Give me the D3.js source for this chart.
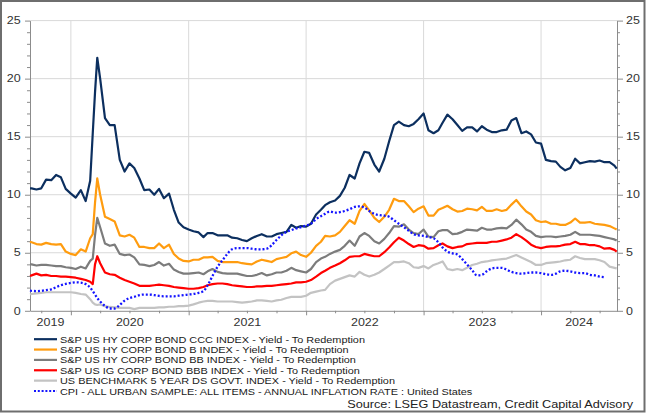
<!DOCTYPE html>
<html>
<head>
<meta charset="utf-8">
<script src="https://cdn.jsdelivr.net/npm/d3@7"></script>
<style>
  html, body { margin: 0; padding: 0; background: #fff; }
  svg { display: block; font-family: "Liberation Sans", Arial, sans-serif; }
</style>
</head>
<body>
<svg id="chart" width="646" height="413"></svg>
<script>
// ---------- DATA ----------
const dates = [
  "2019-08-27","2019-09-01","2019-09-16","2019-10-01","2019-10-16","2019-11-01","2019-11-16","2019-12-01","2019-12-16",
  "2020-01-01","2020-01-16","2020-02-01","2020-02-16","2020-03-01","2020-03-09","2020-03-16","2020-03-23","2020-04-01","2020-04-16",
  "2020-05-01","2020-05-16","2020-06-01","2020-06-16","2020-07-01","2020-07-16","2020-08-01","2020-08-16","2020-09-01","2020-09-16",
  "2020-10-01","2020-10-16","2020-11-01","2020-11-16","2020-12-01","2020-12-16",
  "2021-01-01","2021-01-16","2021-02-01","2021-02-16","2021-03-01","2021-03-16","2021-04-01","2021-04-16","2021-05-01","2021-05-16",
  "2021-06-01","2021-06-16","2021-07-01","2021-07-16","2021-08-01","2021-08-16","2021-09-01","2021-09-16","2021-10-01","2021-10-16",
  "2021-11-01","2021-11-16","2021-12-01","2021-12-16",
  "2022-01-01","2022-01-16","2022-02-01","2022-02-16","2022-03-01","2022-03-16","2022-04-01","2022-04-16","2022-05-01","2022-05-16",
  "2022-06-01","2022-06-16","2022-07-01","2022-07-16","2022-08-01","2022-08-16","2022-09-01","2022-09-16","2022-10-01","2022-10-16",
  "2022-11-01","2022-11-16","2022-12-01","2022-12-16",
  "2023-01-01","2023-01-16","2023-02-01","2023-02-16","2023-03-01","2023-03-16","2023-04-01","2023-04-16","2023-05-01","2023-05-16",
  "2023-06-01","2023-06-16","2023-07-01","2023-07-16","2023-08-01","2023-08-16","2023-09-01","2023-09-16","2023-10-01","2023-10-16",
  "2023-11-01","2023-11-16","2023-12-01","2023-12-16",
  "2024-01-01","2024-01-16","2024-02-01","2024-02-16","2024-03-01","2024-03-16","2024-04-01","2024-04-16","2024-05-01","2024-05-16",
  "2024-06-01","2024-06-16","2024-07-01","2024-07-16","2024-08-01","2024-08-16","2024-08-23"
];

const cccYield = [
  10.55,10.55,10.45,10.55,11.3,11.25,11.7,11.5,10.5,
  10.1,9.75,10.4,9.45,11.2,15.3,18.8,21.8,20.0,16.6,16.0,16.0,13.0,12.0,12.7,12.3,11.4,10.4,10.45,10.0,10.5,9.7,10.1,8.7,7.6,7.2,
  7.0,6.85,6.75,6.35,6.7,6.7,6.5,6.5,6.5,6.3,6.25,6.1,6.0,6.25,6.45,6.6,6.4,6.4,6.6,6.7,6.8,7.4,7.15,7.3,
  7.25,7.5,8.3,8.7,9.1,9.35,9.5,9.9,10.6,11.7,11.4,12.7,13.7,13.6,12.6,12.0,13.1,14.6,16.0,16.3,16.0,15.9,16.1,16.5,
  17.0,15.55,15.3,15.55,16.2,16.9,16.5,16.0,15.5,15.8,15.8,15.45,15.9,15.6,15.4,15.4,15.55,15.6,16.4,16.6,15.3,15.45,15.2,14.5,
  14.4,13.0,12.9,12.85,12.4,12.1,12.3,13.1,12.7,12.8,12.9,12.85,12.95,12.8,12.8,12.5,12.25
];
const bYield = [
  5.95,5.9,5.75,5.7,5.85,5.75,5.7,5.75,5.1,
  4.9,4.8,5.3,5.1,6.25,6.6,9.3,11.4,10.0,8.1,7.9,7.7,6.5,6.4,6.55,6.3,5.5,5.5,5.4,5.4,5.8,5.4,5.7,4.9,4.5,4.3,
  4.25,4.4,4.4,4.6,4.6,4.65,4.3,4.2,4.2,4.2,4.2,4.1,4.05,4.0,4.25,4.4,4.3,4.2,4.45,4.55,4.65,4.95,5.1,4.8,
  4.65,5.0,5.6,5.95,6.45,6.4,6.5,6.8,7.3,7.8,7.5,8.6,9.2,8.65,8.0,7.65,8.1,8.7,9.65,9.45,9.45,9.0,8.5,8.8,
  9.0,8.2,8.2,8.7,8.85,9.05,8.75,8.55,8.6,8.8,8.75,8.65,8.95,8.6,8.6,8.75,8.6,8.7,9.15,9.55,9.0,8.55,8.3,7.8,
  7.65,7.7,7.5,7.5,7.4,7.4,7.6,7.95,7.6,7.6,7.65,7.5,7.45,7.4,7.3,7.1,7.0
];
const bbYield = [
  4.0,4.0,3.9,3.95,3.95,3.9,3.85,3.85,3.75,
  3.7,3.6,3.8,3.65,4.3,4.5,6.5,8.0,7.2,5.8,5.6,5.7,4.9,4.8,4.85,4.6,4.0,3.95,3.85,3.95,4.2,3.9,4.05,3.55,3.35,3.2,
  3.2,3.25,3.3,3.15,3.4,3.6,3.35,3.25,3.2,3.2,3.2,3.1,3.0,3.0,3.1,3.25,3.05,3.15,3.3,3.3,3.45,3.7,3.5,3.4,
  3.3,3.6,4.2,4.5,4.65,4.9,5.1,5.25,5.6,6.05,5.6,6.4,6.7,6.45,6.0,5.8,6.2,6.7,7.3,7.25,7.45,7.0,6.7,6.6,
  7.0,6.4,6.35,6.85,6.95,6.95,6.6,6.65,6.8,7.0,6.95,6.9,7.15,7.0,7.0,7.1,7.15,7.1,7.4,7.85,7.45,7.0,6.8,6.45,
  6.35,6.4,6.4,6.35,6.4,6.45,6.55,6.8,6.55,6.55,6.55,6.5,6.45,6.35,6.25,6.15,6.05
];
const bbbYield = [
  3.0,3.05,3.2,3.05,3.1,3.0,3.0,2.95,2.95,
  2.9,2.85,2.75,2.65,2.5,2.3,4.0,4.7,4.1,3.3,3.15,3.1,2.85,2.65,2.5,2.35,2.15,2.15,2.15,2.2,2.25,2.2,2.15,2.05,2.0,1.95,
  1.9,1.9,1.95,2.05,2.2,2.3,2.35,2.35,2.3,2.2,2.15,2.1,2.05,2.05,2.1,2.1,2.15,2.15,2.2,2.25,2.3,2.35,2.45,2.45,
  2.5,2.65,2.95,3.25,3.45,3.7,3.9,4.1,4.35,4.65,4.7,4.7,4.9,4.8,4.7,4.7,5.05,5.45,5.9,6.3,6.05,5.75,5.5,5.65,
  5.6,5.35,5.4,5.65,5.8,5.55,5.4,5.5,5.55,5.75,5.8,5.85,5.85,5.85,5.95,5.95,6.05,6.15,6.3,6.6,6.35,6.05,5.7,5.5,
  5.4,5.5,5.55,5.55,5.6,5.7,5.75,5.95,5.75,5.75,5.65,5.65,5.55,5.35,5.4,5.25,5.1
];
const govt5y = [
  1.4,1.45,1.5,1.55,1.6,1.6,1.6,1.6,1.6,
  1.6,1.55,1.45,1.4,1.0,0.7,0.55,0.5,0.55,0.4,0.33,0.3,0.25,0.25,0.25,0.15,0.25,0.25,0.25,0.25,0.3,0.3,0.35,0.35,0.4,0.4,
  0.45,0.55,0.7,0.8,0.85,0.85,0.8,0.8,0.8,0.8,0.75,0.7,0.75,0.8,0.9,0.9,0.85,0.8,0.9,0.95,1.1,1.2,1.2,1.2,
  1.3,1.55,1.65,1.75,1.8,2.3,2.6,2.75,2.9,3.05,2.95,3.35,3.1,2.95,3.1,3.3,3.6,3.9,4.2,4.2,4.25,4.1,3.75,3.7,
  3.85,3.65,3.95,4.1,4.25,3.6,3.5,3.6,3.5,3.7,3.95,4.05,4.2,4.25,4.35,4.4,4.45,4.5,4.65,4.8,4.6,4.4,4.2,3.95,
  3.95,4.1,4.15,4.2,4.25,4.35,4.4,4.7,4.55,4.45,4.45,4.45,4.35,4.2,3.8,3.7,3.65
];
const cpiRate = [
  1.75,1.72,1.7,1.72,1.78,1.85,2.03,2.2,2.32,
  2.4,2.45,2.42,2.3,2.0,1.7,1.4,1.1,0.8,0.42,0.2,0.2,0.5,0.88,1.1,1.2,1.35,1.4,1.4,1.35,1.28,1.25,1.25,1.25,1.3,1.35,
  1.4,1.45,1.55,1.7,2.2,3.0,3.8,4.35,4.9,5.3,5.4,5.4,5.4,5.35,5.3,5.3,5.35,5.65,6.1,6.5,6.8,6.95,7.1,7.2,
  7.35,7.5,7.9,8.15,8.35,8.55,8.45,8.5,8.6,8.75,8.95,9.0,8.9,8.6,8.35,8.25,8.2,8.1,7.8,7.5,7.2,6.9,6.6,6.5,
  6.45,6.35,6.25,5.9,5.45,5.1,4.95,4.85,4.45,4.0,3.5,3.05,3.1,3.4,3.65,3.7,3.7,3.55,3.35,3.25,3.2,3.25,3.3,3.3,
  3.25,3.15,3.1,3.2,3.4,3.45,3.4,3.3,3.25,3.25,3.1,3.05,2.95,2.9,null,null,null
];

const seriesNames = [
  "S&P US HY CORP BOND CCC INDEX - Yield - To Redemption",
  "S&P US HY CORP BOND B INDEX - Yield - To Redemption",
  "S&P US HY CORP BOND BB INDEX - Yield - To Redemption",
  "S&P US IG CORP BOND BBB INDEX - Yield - To Redemption",
  "US BENCHMARK 5 YEAR DS GOVT. INDEX - Yield - To Redemption",
  "CPI - ALL URBAN SAMPLE: ALL ITEMS - ANNUAL INFLATION RATE : United States"
];
const seriesValues = [cccYield, bYield, bbYield, bbbYield, govt5y, cpiRate];
const seriesColors = ["#0c2f5f", "#ff9c0f", "#7c7c7c", "#ff0000", "#c3c3c3", "#1414ff"];
const yTicks = [0, 5, 10, 15, 20, 25];
const yearLabels = [2019, 2020, 2021, 2022, 2023, 2024];
const sourceText = "Source: LSEG Datastream, Credit Capital Advisory";

// ---------- CHART ----------
const svg = d3.select("#chart");
const parse = d3.utcParse("%Y-%m-%d");
const dt = dates.map(parse);

const x0 = Date.UTC(2019, 7, 27), x1 = Date.UTC(2024, 7, 24);
const x = d3.scaleUtc().domain([x0, x1]).range([30, 617]);
const y = d3.scaleLinear().domain([0, 25]).range([310.8, 20.6]);

const axisColor = "#8c8c8c";
const gridColor = "#d9d9d9";

// outer frame
svg.append("rect").attr("x", 1).attr("y", 1).attr("width", 643.5).attr("height", 410.5)
  .attr("fill", "#fff").attr("stroke", "#6e6e6e").attr("stroke-width", 2);

// gridlines
svg.append("g").selectAll("line").data(yTicks.filter(d => d > 0)).join("line")
  .attr("x1", 30).attr("x2", 617).attr("y1", d => y(d)).attr("y2", d => y(d))
  .attr("stroke", gridColor).attr("stroke-width", 1);
const yearStarts = d3.utcYear.range(new Date(x0), new Date(x1)).filter(d => +d > x0);
svg.append("g").selectAll("line").data(yearStarts).join("line")
  .attr("x1", d => x(d)).attr("x2", d => x(d)).attr("y1", y(25)).attr("y2", y(0))
  .attr("stroke", gridColor).attr("stroke-width", 1);

// axes
const labelStyle = sel => sel.attr("fill", "#333").style("font-size", "10px")
  .style("font-family", '"Liberation Sans", Arial, sans-serif');

const gL = svg.append("g").attr("transform", "translate(30,0)")
  .call(d3.axisLeft(y).tickValues(d3.range(0, 26)).tickFormat(d => d % 5 ? "" : d).tickSizeOuter(0));
gL.select(".domain").attr("stroke", axisColor);
gL.selectAll(".tick line").attr("x2", d => d % 5 ? -3 : -5).attr("stroke", axisColor);
gL.selectAll(".tick text").attr("x", -7.4).attr("transform", "scale(1.25,1)").call(labelStyle);

const gR = svg.append("g").attr("transform", "translate(617,0)")
  .call(d3.axisRight(y).tickValues(d3.range(0, 26)).tickFormat(d => d % 5 ? "" : d).tickSizeOuter(0));
gR.select(".domain").attr("stroke", axisColor);
gR.selectAll(".tick line").attr("x2", d => d % 5 ? 3 : 6).attr("stroke", axisColor);
gR.selectAll(".tick text").attr("x", 7.3).attr("transform", "scale(1.25,1)").call(labelStyle);

const quarters = d3.utcMonth.every(3).range(new Date(x0), new Date(x1));
const gB = svg.append("g").attr("transform", `translate(0,${y(0)})`)
  .call(d3.axisBottom(x).tickValues(quarters).tickFormat("").tickSizeOuter(0));
gB.select(".domain").attr("stroke", axisColor);
gB.selectAll(".tick line").attr("y2", d => d.getUTCMonth() === 0 ? 4.5 : 2.5).attr("stroke", axisColor);

// year labels centred on the visible part of each year
svg.append("g").selectAll("text").data(yearLabels).join("text")
  .attr("transform", yr => {
    const s = Math.max(x0, Date.UTC(yr, 0, 1)), e = Math.min(x1, Date.UTC(yr + 1, 0, 1));
    return `translate(${(x(s) + x(e)) / 2},325.6) scale(1.25,1)`;
  })
  .attr("text-anchor", "middle").text(d => d).call(labelStyle);

// lines
const plot = svg.append("g");
const drawOrder = [4, 3, 2, 1, 0, 5];
drawOrder.forEach(i => {
  const vals = seriesValues[i];
  const line = d3.line()
    .defined((d, k) => vals[k] !== null)
    .x((d, k) => x(dt[k]))
    .y((d, k) => y(vals[k]))
    .curve(i === 5 ? d3.curveMonotoneX : d3.curveLinear);
  plot.append("path").datum(vals).attr("d", line)
    .attr("fill", "none").attr("stroke", seriesColors[i])
    .attr("stroke-width", i === 5 ? 2.3 : 2.2)
    .attr("stroke-linejoin", "round")
    .attr("stroke-dasharray", i === 5 ? "2,2" : null);
});

// legend
const rowY = d3.scaleLinear().domain([0, 5]).range([339.2, 391]);
const leg = svg.append("g");
seriesNames.forEach((name, i) => {
  leg.append("line").attr("x1", 34).attr("x2", 57).attr("y1", rowY(i)).attr("y2", rowY(i))
    .attr("stroke", seriesColors[i]).attr("stroke-width", 2.2)
    .attr("stroke-dasharray", i === 5 ? "2,1.8" : null);
  leg.append("text").attr("transform", `translate(60,${rowY(i) + 3.5}) scale(1.1,1)`)
    .attr("fill", "#1a1a1a").style("font-size", "9.9px").text(name);
});

// source
svg.append("text").attr("transform", "translate(633,407.6) scale(1.2,1)")
  .attr("text-anchor", "end").attr("fill", "#222").style("font-size", "10.6px").text(sourceText);
</script>
</body>
</html>
